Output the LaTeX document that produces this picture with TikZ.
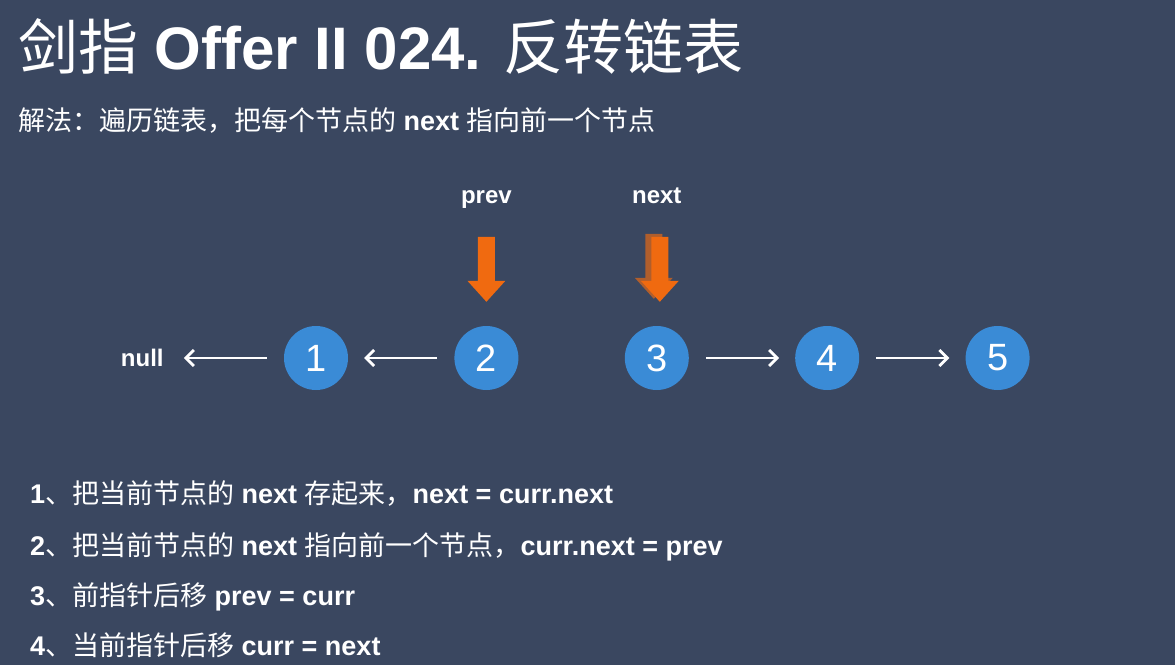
\documentclass[tikz,border=0pt]{standalone}
\usepackage{fontspec}
\setmainfont{Liberation Sans}
\newfontfamily\cjk{Noto Sans CJK SC}
\usetikzlibrary{positioning}
\usetikzlibrary{graphs}
\usetikzlibrary{arrows.meta}
\definecolor{slide}{RGB}{58,71,96}
\definecolor{nodeblue}{RGB}{58,139,214}
\definecolor{ptrorange}{RGB}{240,106,16}
\newcommand{\zh}[1]{{\cjk\mdseries #1}}
\tikzset{
  listnode/.style={circle,fill=nodeblue,text=white,minimum size=64pt,inner sep=0pt,
    font=\fontsize{38}{38}\selectfont},
  pointer/.pic={
    \fill (0,0) -- (-19,21) -- (-8.5,21) -- (-8.5,65) -- (8.5,65) -- (8.5,21) -- (19,21) -- cycle;
  },
  ptrlabel/.style={text=white,inner sep=0pt,text depth=0.22em,
    font=\fontsize{24}{24}\selectfont\bfseries},
  slidetext/.style={text=white,anchor=base west,inner sep=0pt},
  link/.style={white,line width=2.8pt,>={Straight Barb[length=8pt,width=16pt]},
    shorten <=17pt,shorten >=16pt},
}

\begin{document}
\begin{tikzpicture}[x=1pt,y=1pt]
            \useasboundingbox (0,0) rectangle (1175,665);
            \fill[slide] (0,0) rectangle (1175,665);

            % heading
            \node[slidetext] (title) at (18,595)
                {\fontsize{60}{60}\selectfont\bfseries\zh{剑指} Offer II 024. \zh{反转链表}};
            \node[slidetext] (subtitle) at (18,534)
                {\fontsize{27}{27}\selectfont\bfseries\zh{解法：遍历链表，把每个节点的} next \zh{指向前一个节点}};

            % the list
            \node[listnode] (n1) at (316,307)      {1};
            \node[listnode] (n2) [right=106pt of n1] {2};
            \node[listnode] (n3) [right=106pt of n2] {3};
            \node[listnode] (n4) [right=106pt of n3] {4};
            \node[listnode] (n5) [right=106pt of n4] {5};
            \node[text=white,inner sep=4pt,font=\fontsize{24}{24}\selectfont\bfseries]
                (nul) [left=116pt of n1] {null};

            \graph[edges={link}]{
                (n2) -> (n1) -> (nul);
                (n3) -> (n4) -> (n5);
            };

            % pointers
            \path (n2.north) ++(0,24) coordinate (tipprev);
            \path (n3.north) ++(0,24) coordinate (tipnext);
            \pic[ptrorange] (ptrprev) at (tipprev) {pointer};
            \pic[ptrorange!65!slide] (ghost) at ([shift={(-3,3)}]tipnext) {pointer};
            \pic[ptrorange] (ptrnext) at ([xshift=3pt]tipnext) {pointer};
            \node[ptrlabel] (lprev) [above=96pt of tipprev] {prev};
            \node[ptrlabel] (lnext) [above=96pt of tipnext] {next};

            % steps
            \begin{scope}[every node/.style={slidetext,font=\fontsize{27}{27}\selectfont\bfseries}]
                \node (s1) at (30,162) {1\zh{、把当前节点的} next \zh{存起来，}next = curr.next};
                \node (s2) at (30,110) {2\zh{、把当前节点的} next \zh{指向前一个节点，}curr.next = prev};
                \node (s3) at (30,60)  {3\zh{、前指针后移} prev = curr};
                \node (s4) at (30,10)  {4\zh{、当前指针后移} curr = next};
            \end{scope}
        \end{tikzpicture}
\end{document}
